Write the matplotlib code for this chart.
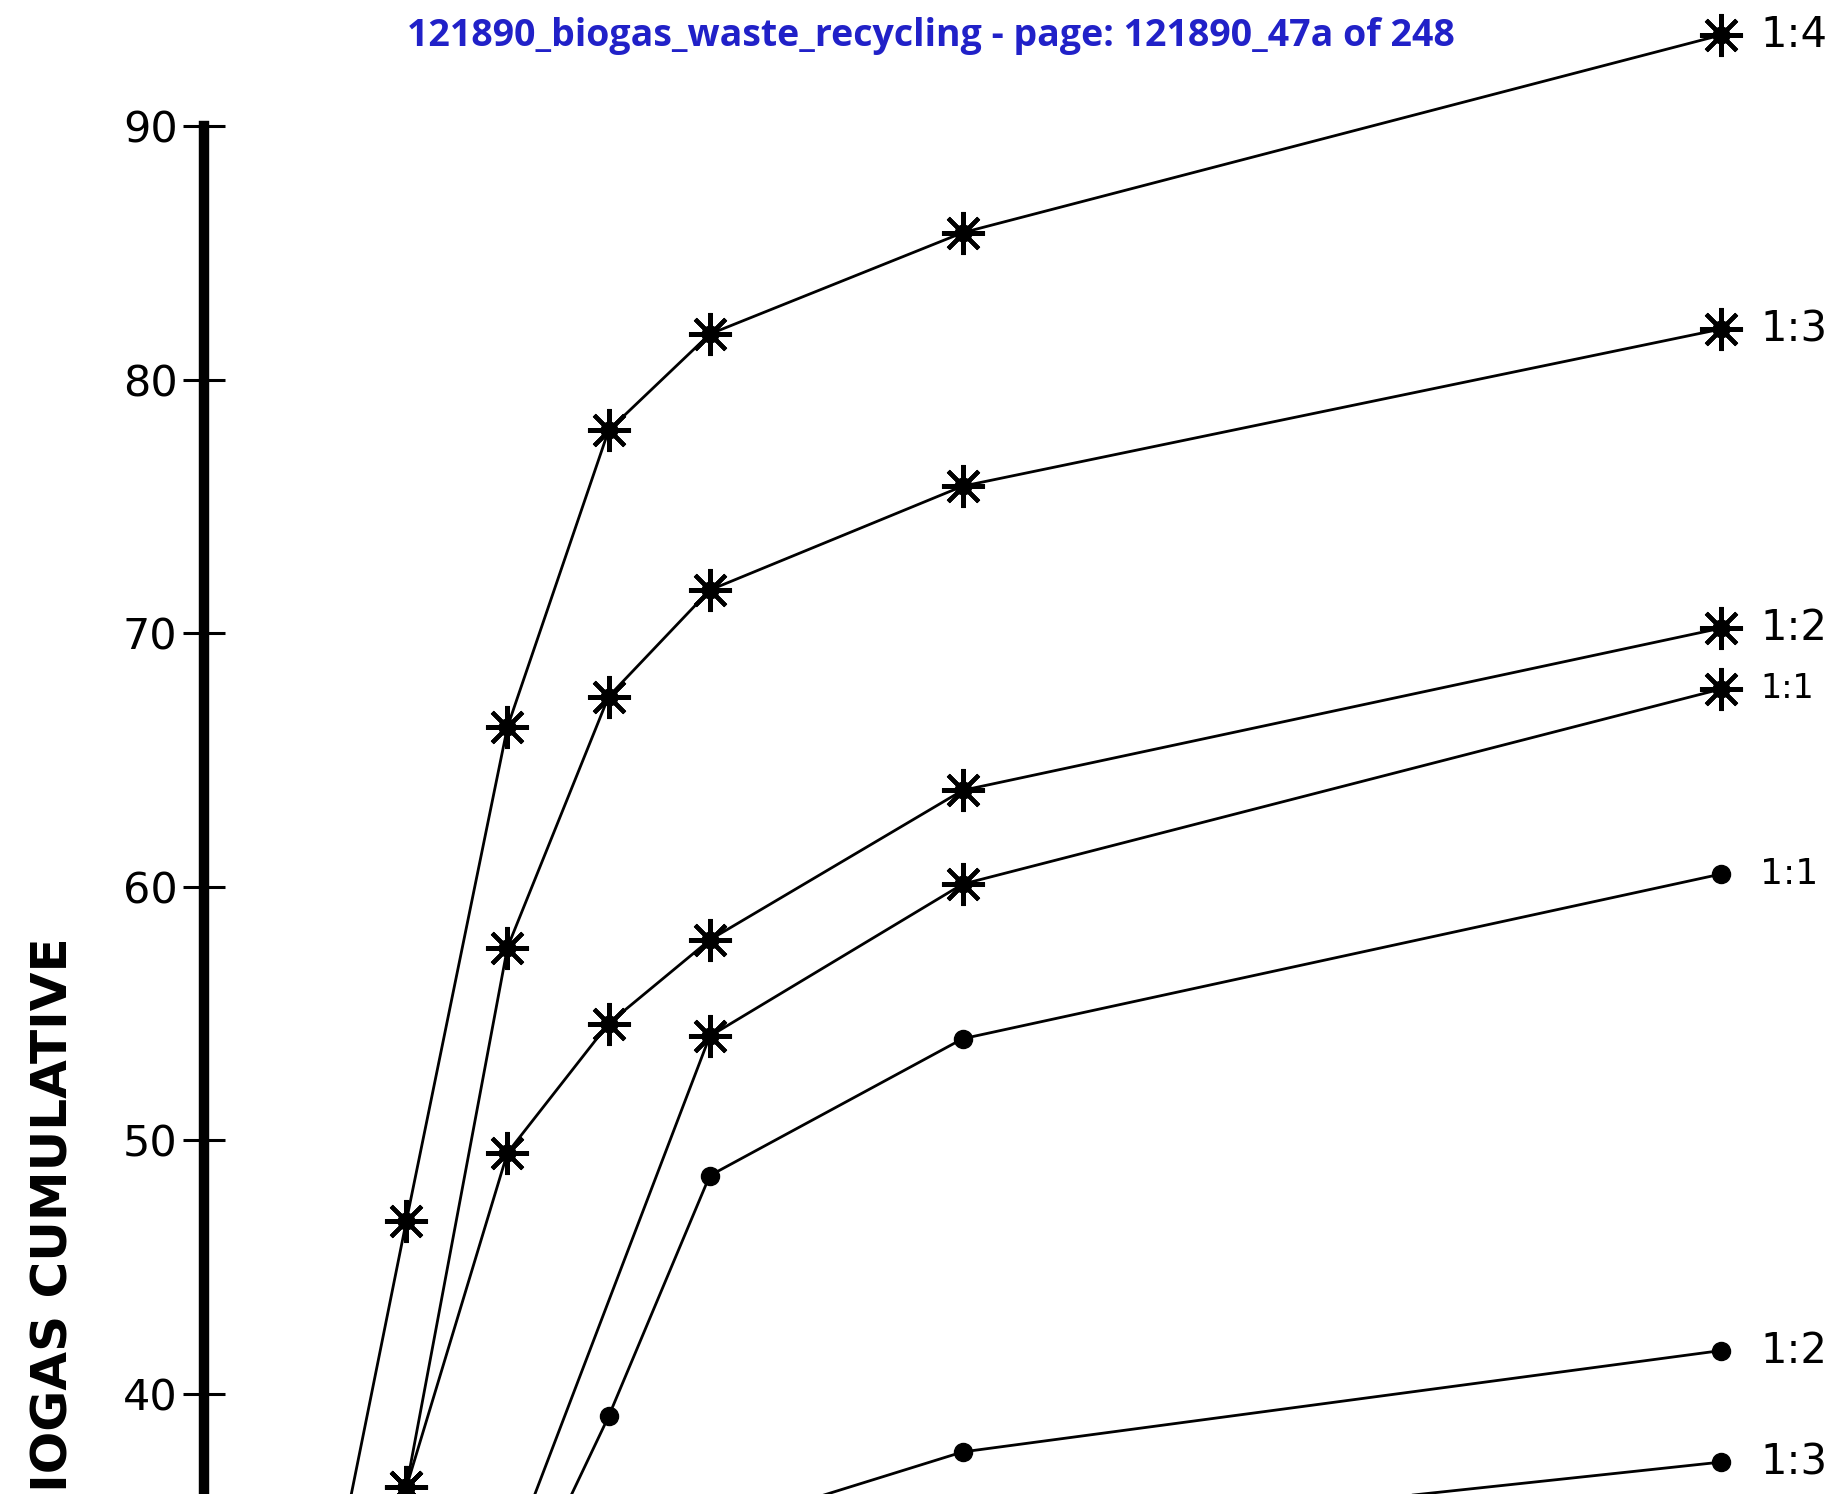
import matplotlib
matplotlib.use("Agg")
import matplotlib.pyplot as plt

# days of digestion (x positions of the measured points)
days = [4, 8, 12, 16, 20, 30, 60]

# asterisk series (cumulative biogas)
star_14 = [27.0, 46.8, 66.3, 78.0, 81.8, 85.8, 93.6]
star_13 = [24.0, 36.3, 57.6, 67.5, 71.7, 75.8, 82.0]
star_12 = [22.0, 36.3, 49.5, 54.6, 57.9, 63.8, 70.2]
star_11_days = [12, 20, 30, 60]
star_11 = [33.2, 54.1, 60.1, 67.8]

# dot series
dot_11_days = [12, 16, 20, 30, 60]
dot_11 = [30.7, 39.1, 48.6, 54.0, 60.5]
dot_12_days = [20, 30, 60]
dot_12 = [34.6, 37.7, 41.7]
dot_13_days = [30, 60]
dot_13 = [34.1, 37.3]

star_series = [("1:4", days, star_14, 30), ("1:3", days, star_13, 30),
               ("1:2", days, star_12, 30), ("1:1", star_11_days, star_11, 24)]
dot_series = [("1:1", dot_11_days, dot_11, 26), ("1:2", dot_12_days, dot_12, 30),
              ("1:3", dot_13_days, dot_13, 30)]

y_ticks = [40, 50, 60, 70, 80, 90]

fig = plt.figure(figsize=(18.49, 14.94), dpi=100)
ax = fig.add_axes([204 / 1849, 0, 1 - 204 / 1849, 1])
ax.set_xlim(0, 65.05)
ax.set_ylim(36.04, 94.98)

for label, x, y, fs in star_series:
    ax.plot(x, y, color="black", lw=2)
    ax.plot(x, y, linestyle="none", marker=(8, 2, 0), ms=31, mew=3, color="black")
    ax.plot(x, y, linestyle="none", marker="o", ms=12, color="black")
    ax.annotate(label, (x[-1], y[-1]), xytext=(28, 0), textcoords="offset points",
                va="center", ha="left", fontsize=fs, fontfamily="DejaVu Sans")

for label, x, y, fs in dot_series:
    ax.plot(x, y, color="black", lw=2, marker="o", ms=13)
    ax.annotate(label, (x[-1], y[-1]), xytext=(28, 0), textcoords="offset points",
                va="center", ha="left", fontsize=fs, fontfamily="DejaVu Sans")

for side in ["top", "right", "bottom"]:
    ax.spines[side].set_visible(False)
ax.spines["left"].set_linewidth(7.5)
ax.spines["left"].set_bounds(36.04, 90)
ax.set_xticks([])
ax.set_yticks(y_ticks)
ax.tick_params(axis="y", direction="inout", length=30, width=2.2, pad=4, labelsize=31)

# axis title is cropped at the bottom edge in the scan, as in the reference
fig.text(54 / 1849, 1 - 937 / 1494, "BIOGAS CUMULATIVE", rotation=90, ha="center",
         va="top", fontsize=36, fontweight="bold", fontfamily="DejaVu Sans")

fig.text(931 / 1849, 1 - 36 / 1494,
         "121890_biogas_waste_recycling - page: 121890_47a of 248",
         ha="center", va="center", fontsize=27, fontweight="bold",
         fontfamily="Open Sans", color="#2121c8")

fig.savefig("out.png", dpi=100, facecolor="white")
